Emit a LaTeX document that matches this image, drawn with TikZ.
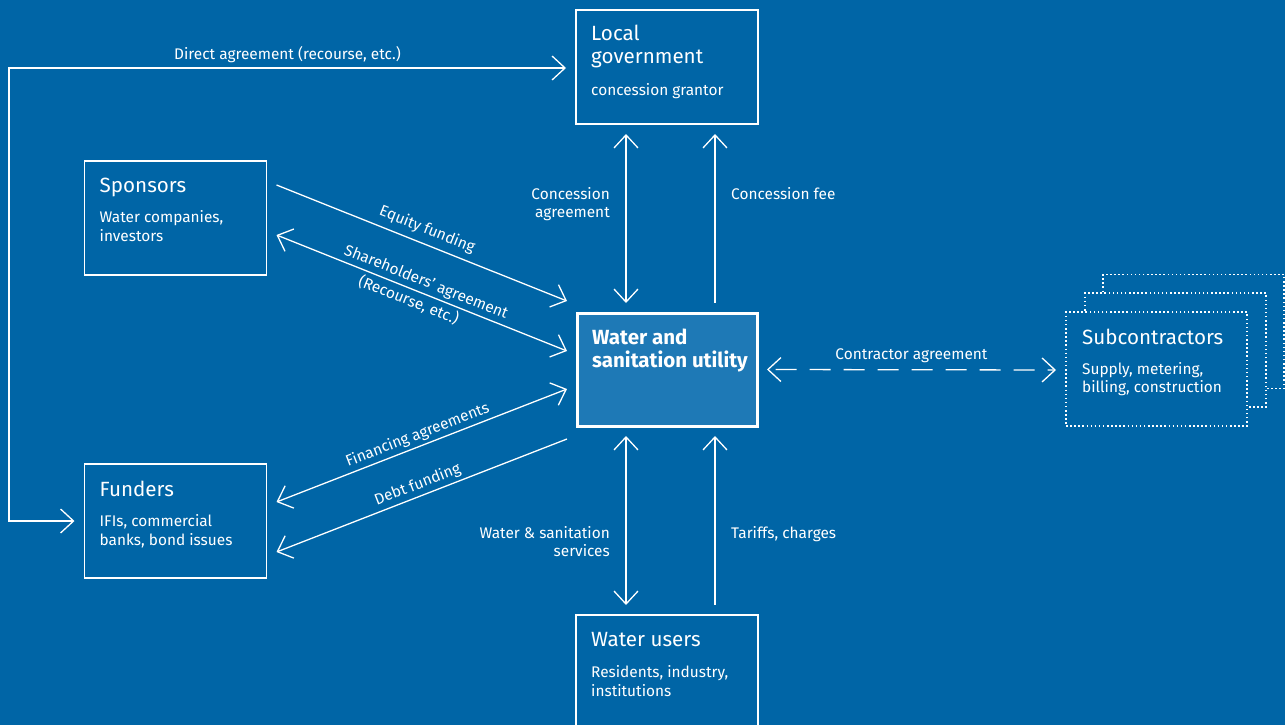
\documentclass[tikz,border=0pt]{standalone}
\usepackage{fontspec}
\setmainfont{Fira Sans}
\usetikzlibrary{arrows.meta,calc}
\definecolor{bgblue}{HTML}{0065A6}
\definecolor{boxblue}{HTML}{1E79B6}
\begin{document}
\begin{tikzpicture}[x=1pt,y=-1pt,
  box/.style={draw=white, line width=1.3pt, rectangle, inner sep=0pt, outer sep=0pt,
    minimum width=182pt, minimum height=114pt},
  mainbox/.style={box, line width=3pt, fill=boxblue, minimum width=180pt, minimum height=113pt},
  dotbox/.style={box, fill=bgblue, dash pattern=on 1.5pt off 2.6pt, line width=1.5pt,
    minimum width=181pt},
  conn/.style={draw=white, line width=1.3pt},
  barb/.tip={Straight Barb[length=13pt,width=24pt]},
  title/.style={text=white, inner sep=0pt, anchor=north west, align=left,
    font=\fontsize{20.6}{23}\selectfont},
  sub/.style={text=white, inner sep=0pt, anchor=north west, align=left,
    font=\fontsize{15.4}{19}\selectfont},
  lbl/.style={text=white, font=\fontsize{15.4}{18}\selectfont, inner sep=3pt}
]
\useasboundingbox[fill=bgblue] (0,0) rectangle (1285,725);

% boxes
\node[box] (lg) at (667,67) {};
\node[box] (sp) at (175.5,218) {};
\node[box] (fu) at (175.5,521) {};
\node[mainbox] (ut) at (667,369.5) {};
\node[box] (wu) at (667,672) {};
\node[dotbox] (s3) at (1193.5,331.5) {};
\node[dotbox] (s2) at (1175.5,350) {};
\node[dotbox] (sc) at (1156.5,369) {};

% box texts
\node[title] (lgT) at ($(lg.north west)+(15,15)$) {Local\\government};
\node[sub] (lgS) at ($(lg.north west)+(15,73)$) {concession grantor};
\node[title] (spT) at ($(sp.north west)+(15,17)$) {Sponsors};
\node[sub] (spS) at ($(sp.north west)+(15,49)$) {Water companies,\\investors};
\node[title] (fuT) at ($(fu.north west)+(15,17)$) {Funders};
\node[sub] (fuS) at ($(fu.north west)+(15,50)$) {IFIs, commercial\\banks, bond issues};
\node[title, font=\bfseries\fontsize{20.5}{23}\selectfont] (utT) at ($(ut.north west)+(15,16)$) {Water and\\sanitation utility};
\node[title] (wuT) at ($(wu.north west)+(15,17)$) {Water users};
\node[sub] (wuS) at ($(wu.north west)+(15,50)$) {Residents, industry,\\institutions};
\node[title] (scT) at ($(sc.north west)+(16,17)$) {Subcontractors};
\node[sub, font=\fontsize{15.4}{18}\selectfont] (scS) at ($(sc.north west)+(16,50)$) {Supply, metering,\\billing, construction};

% direct agreement
\coordinate (corner) at (9,521);
\draw[conn, barb-barb] ($(fu.west)+(-10,0)$) -- (corner) |- ($(lg.west)+(-10,1)$)
  node[lbl, pos=0.75, above=2pt] (daL) {Direct agreement (recourse, etc.)};

% vertical connectors
\draw[conn, barb-barb, shorten <=10pt, shorten >=10pt] ([xshift=-41pt]lg.south) -- ([xshift=-41pt]ut.north);
\draw[conn, barb-, shorten <=10pt, shorten >=10pt] ([xshift=48pt]lg.south) -- ([xshift=48pt]ut.north);
\draw[conn, barb-barb, shorten <=10pt, shorten >=10pt] ([xshift=-41pt]ut.south) -- ([xshift=-41pt]wu.north);
\draw[conn, barb-, shorten <=10pt, shorten >=10pt] ([xshift=48pt]ut.south) -- ([xshift=48pt]wu.north);

\node[lbl, anchor=north east, align=right, inner sep=0pt] (caL) at ($(lg.south)+(-57,63)$) {Concession\\agreement};
\node[lbl, anchor=north west, inner sep=0pt] (cfL) at ($(lg.south)+(64,63)$) {Concession fee};
\node[lbl, anchor=north east, align=right, inner sep=0pt] (wsL) at ($(ut.south)+(-57,100)$) {Water \& sanitation\\services};
\node[lbl, anchor=north west, inner sep=0pt] (tcL) at ($(ut.south)+(64,100)$) {Tariffs, charges};

% diagonal connectors
\draw[conn, -barb] ($(sp.north east)+(10,24)$) -- ($(ut.north west)+(-10,-12)$)
  node[lbl, midway, sloped, above=3pt] (efL) {Equity funding};
\draw[conn, barb-barb] ($(sp.north east)+(10,74)$) -- ($(ut.north west)+(-10,38)$)
  node[lbl, midway, sloped, above=0pt] (saL) {Shareholders' agreement}
  node[lbl, pos=0.47, sloped, below=0pt] (rcL) {(Recourse, etc.)};
\draw[conn, barb-barb] ($(ut.north west)+(-10,76)$) -- ($(fu.north east)+(10,38)$)
  node[lbl, midway, sloped, above=0pt] (faL) {Financing agreements};
\draw[conn, -barb] ($(ut.south west)+(-10,13)$) -- ($(fu.north east)+(10,88)$)
  node[lbl, midway, sloped, above=0pt] (dfL) {Debt funding};

% contractor agreement
\draw[conn, barb-barb, dash pattern=on 21pt off 13pt, dash phase=27pt] ($(ut.east)+(10,0)$) -- ($(sc.west)+(-10,1)$)
  node[lbl, midway, above=3pt] (coL) {Contractor agreement};
\end{tikzpicture}
\end{document}
